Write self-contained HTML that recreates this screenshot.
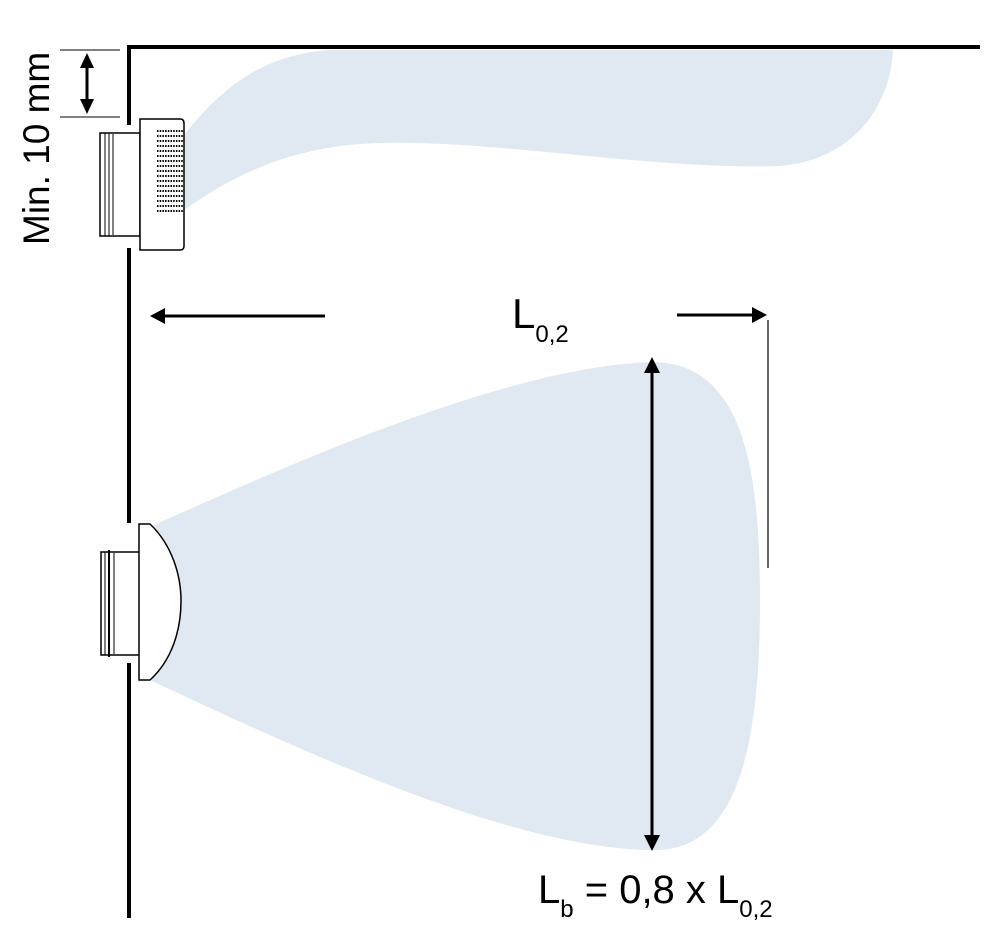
<!DOCTYPE html>
<html><head><meta charset="utf-8"><style>html,body{margin:0;padding:0;background:#fff}svg{display:block}</style></head>
<body>
<svg width="1000" height="950" viewBox="0 0 1000 950" xmlns="http://www.w3.org/2000/svg" font-family="Liberation Sans, DejaVu Sans, sans-serif">
<defs>
<marker id="ah" markerWidth="10" markerHeight="10" refX="9" refY="5" orient="auto" markerUnits="userSpaceOnUse" viewBox="0 0 10 10">
<path d="M0,0 L10,5 L0,10 z" fill="#000"/></marker>
</defs>
<!-- plumes -->
<path d="M184,135 C220,90 260,55 330,50 L893,50 C890,110 850,160 780,166 C650,170 500,140 380,143 C300,145 240,170 184,210 Z" fill="#e0e8f1"/>
<path d="M150,527 C320,450 520,365 655,362 C740,365 760,460 760,600 C760,740 740,850 655,850 C520,850 320,760 150,680 Z" fill="#e0e8f1"/>
<!-- walls -->
<path d="M129,125 L129,47 L980,47" fill="none" stroke="#000" stroke-width="4"/>
<line x1="129" y1="248" x2="129" y2="523" stroke="#000" stroke-width="4"/>
<line x1="129" y1="663" x2="129" y2="918" stroke="#000" stroke-width="4"/>
<!-- top device -->
<rect x="100" y="133" width="40" height="103" fill="#fff" stroke="#000" stroke-width="1.5"/>
<line x1="105" y1="133" x2="105" y2="236" stroke="#000" stroke-width="1"/>
<line x1="109" y1="133" x2="109" y2="236" stroke="#000" stroke-width="1"/>
<line x1="113" y1="134" x2="113" y2="235" stroke="#000" stroke-width="1"/>
<path d="M140,119 L180,119 Q184,119 184,123 L184,246 Q184,250 180,250 L140,250 Z" fill="#fff" stroke="#000" stroke-width="1.5"/>
<g stroke="#000" stroke-width="2" stroke-dasharray="1.5 1.2">
<line x1="157" y1="131" x2="183" y2="131"/><line x1="157" y1="136" x2="183" y2="136"/>
<line x1="157" y1="141" x2="183" y2="141"/><line x1="157" y1="146" x2="183" y2="146"/>
<line x1="157" y1="151" x2="183" y2="151"/><line x1="157" y1="156" x2="183" y2="156"/>
<line x1="157" y1="161" x2="183" y2="161"/><line x1="157" y1="166" x2="183" y2="166"/>
<line x1="157" y1="171" x2="183" y2="171"/><line x1="157" y1="176" x2="183" y2="176"/>
<line x1="157" y1="181" x2="183" y2="181"/><line x1="157" y1="186" x2="183" y2="186"/>
<line x1="157" y1="191" x2="183" y2="191"/><line x1="157" y1="196" x2="183" y2="196"/>
<line x1="157" y1="201" x2="183" y2="201"/><line x1="157" y1="206" x2="183" y2="206"/>
<line x1="157" y1="211" x2="183" y2="211"/>
</g>
<!-- bottom device -->
<rect x="101" y="552" width="39" height="103" fill="#fff" stroke="#000" stroke-width="1.5"/>
<line x1="105" y1="552" x2="105" y2="655" stroke="#000" stroke-width="1"/>
<line x1="109" y1="550" x2="109" y2="657" stroke="#000" stroke-width="2"/>
<line x1="114" y1="553" x2="114" y2="654" stroke="#000" stroke-width="1"/>
<path d="M139,524 L150,524 C172,545 181,575 181,601 C181,630 172,660 150,680 L139,680 Z" fill="#fff" stroke="#000" stroke-width="1.5"/>
<!-- min 10mm dimension -->
<line x1="60" y1="50" x2="120" y2="50" stroke="#000" stroke-width="1"/>
<line x1="60" y1="117" x2="120" y2="117" stroke="#000" stroke-width="1"/>
<line x1="87" y1="68" x2="87" y2="99" stroke="#000" stroke-width="3"/>
<path d="M80,68 L94,68 L87,53 Z" fill="#000"/>
<path d="M80,99 L94,99 L87,114 Z" fill="#000"/>
<text transform="translate(49,245) rotate(-90)" font-size="37" fill="#000">Min. 10 mm</text>
<!-- L0,2 arrows -->
<line x1="325" y1="316" x2="165" y2="316" stroke="#000" stroke-width="3"/>
<path d="M165,308 L150,316 L165,324 Z" fill="#000"/>
<line x1="677" y1="315" x2="752" y2="315" stroke="#000" stroke-width="3"/>
<path d="M752,307 L767,315 L752,323 Z" fill="#000"/>
<line x1="768" y1="320" x2="768" y2="568" stroke="#000" stroke-width="1.2"/>
<text x="512" y="328" font-size="42" fill="#000">L<tspan font-size="24" dy="14">0,2</tspan></text>
<!-- vertical arrow -->
<line x1="652" y1="372" x2="652" y2="836" stroke="#000" stroke-width="3"/>
<path d="M644,373 L652,357 L660,373 Z" fill="#000"/>
<path d="M644,835 L652,851 L660,835 Z" fill="#000"/>
<text x="538" y="903" font-size="40" fill="#000">L<tspan font-size="24" dy="14">b</tspan><tspan dy="-14"> = 0,8 x L</tspan><tspan font-size="24" dy="14">0,2</tspan></text>
</svg>
</body></html>
